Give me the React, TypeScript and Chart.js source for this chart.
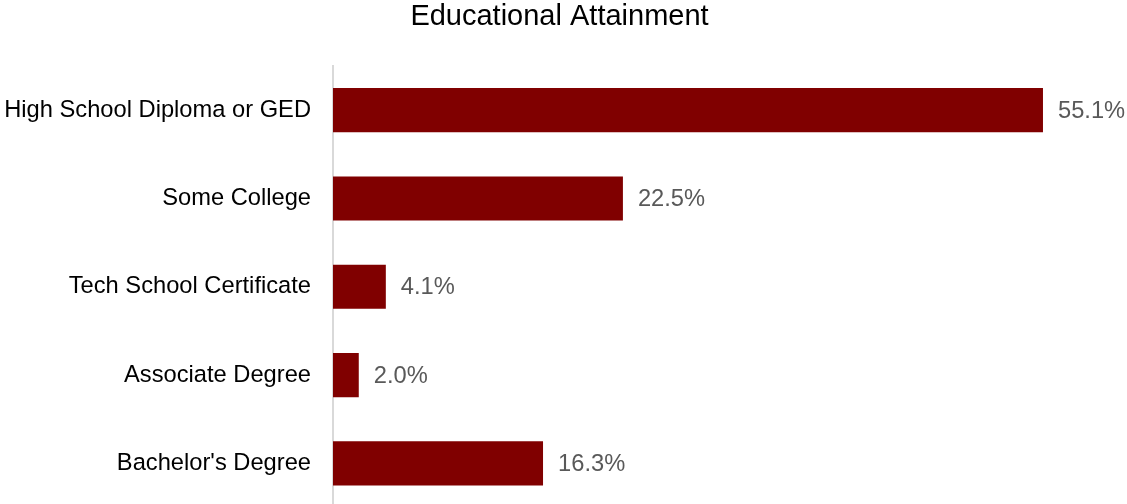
import React, { useEffect, useRef } from "react";
import { Chart, registerables } from "chart.js";

Chart.register(...registerables);

const categories = [
  "High School Diploma or GED",
  "Some College",
  "Tech School Certificate",
  "Associate Degree",
  "Bachelor's Degree",
];
const values = [55.1, 22.5, 4.1, 2.0, 16.3];
const titleText = "Educational Attainment";

const FONT = "Arial, 'Liberation Sans', sans-serif";

const valueLabels = {
  id: "valueLabels",
  afterDatasetsDraw(chart: any) {
    const ctx = chart.ctx;
    const meta = chart.getDatasetMeta(0);
    ctx.save();
    ctx.font = `23.7px ${FONT}`;
    ctx.fillStyle = "#595959";
    ctx.textAlign = "left";
    ctx.textBaseline = "middle";
    meta.data.forEach((bar: any, i: number) => {
      const v = chart.data.datasets[0].data[i] as number;
      ctx.fillText(v.toFixed(1) + "%", bar.x + 15, bar.y + 1);
    });
    ctx.restore();
  },
};

export default function App() {
  const ref = useRef<HTMLCanvasElement | null>(null);
  useEffect(() => {
    if (!ref.current) return;
    const chart = new Chart(ref.current, {
      type: "bar",
      data: {
        labels: categories,
        datasets: [
          {
            data: values,
            backgroundColor: "#800000",
            categoryPercentage: 1,
            barPercentage: 0.5,
          },
        ],
      },
      options: {
        indexAxis: "y",
        responsive: false,
        animation: false,
        devicePixelRatio: 1,
        layout: { padding: { left: 0, right: 8, top: 0, bottom: 4.5 } },
        plugins: {
          legend: { display: false },
          tooltip: { enabled: false },
          title: {
            display: true,
            text: titleText,
            color: "#000",
            font: { family: FONT, size: 29, weight: "normal" },
            padding: { top: 0, bottom: 31.2 },
          },
        },
        scales: {
          x: { display: false, min: 0, max: 61 },
          y: {
            afterFit: (scale: any) => {
              scale.width = 333;
              scale.paddingTop = 0;
              scale.paddingBottom = 0;
            },
            grid: { display: false, drawTicks: false },
            border: { display: true, color: "#d9d9d9", width: 2 },
            ticks: {
              color: "#000",
              padding: 22,
              font: { family: FONT, size: 23.7 },
            },
          },
        },
      },
      plugins: [valueLabels],
    });
    return () => chart.destroy();
  }, []);
  return (
    <div style={{ position: "fixed", left: 0, top: 0, width: 1127, height: 512, background: "#fff" }}>
      <canvas ref={ref} width={1127} height={512} />
    </div>
  );
}
